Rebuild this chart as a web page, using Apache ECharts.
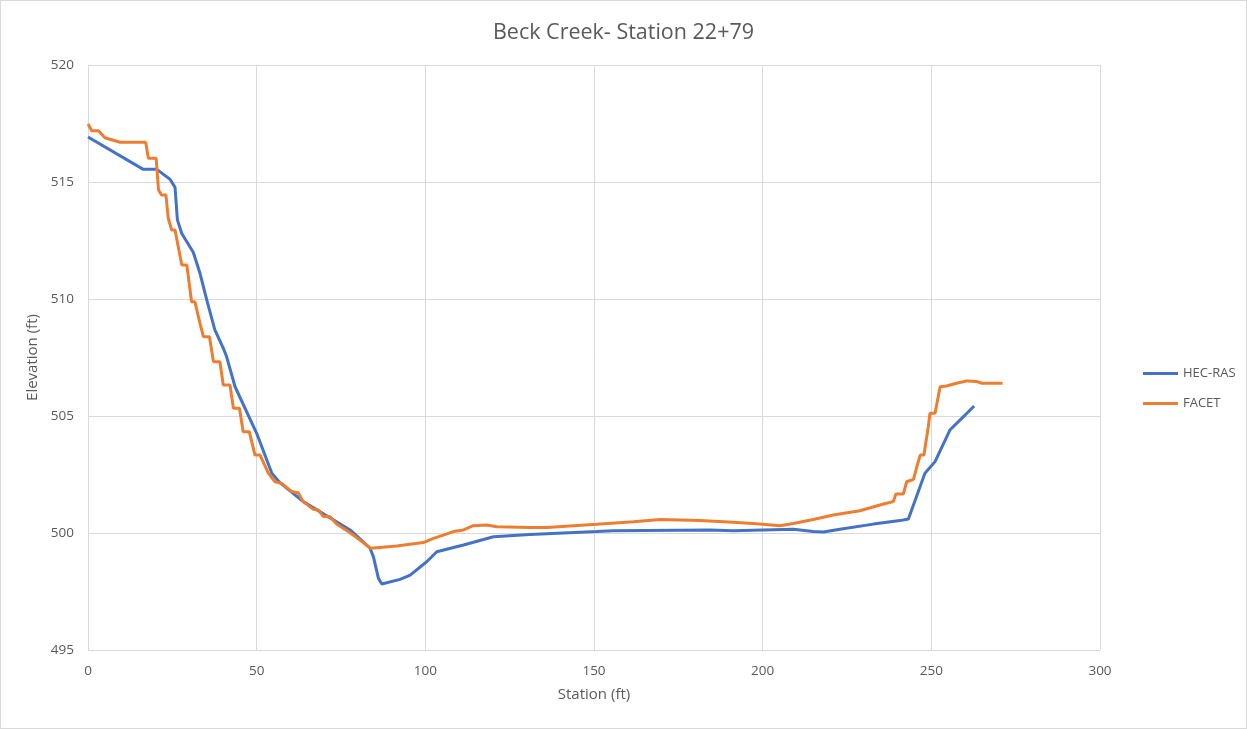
<!DOCTYPE html>
<html>
<head>
<meta charset="utf-8">
<script src="https://cdn.jsdelivr.net/npm/echarts@6/dist/echarts.min.js"></script>
<style>
html,body{margin:0;padding:0;background:#fff;}
#c{width:1245px;height:727px;border:1px solid #d9d9d9;}
</style>
</head>
<body>
<div id="c"></div>
<script>
const titleText = "Beck Creek- Station 22+79";
const xAxisName = "Station (ft)";
const yAxisName = "Elevation (ft)";
const seriesNames = ["HEC-RAS", "FACET"];

const hecStation = [0,16.4,20.4,24.3,25.8,26.5,27.8,31.2,33.2,35.2,37.6,40.1,41.1,43.6,50.0,54.5,56.9,63.8,77.7,83.6,84.6,86.1,87.1,92.5,95.5,100.4,103.4,111.3,120.2,131.0,150.8,155.7,184.4,191.3,209.1,215.0,218.0,222.9,232.8,240.7,243.2,248.1,251.1,255.5,260.0,262.7];
const hecElev = [516.92,515.54,515.54,515.12,514.77,513.38,512.8,512.0,511.1,509.96,508.68,507.9,507.53,506.25,504.26,502.55,502.15,501.34,500.13,499.35,498.99,498.06,497.82,498.02,498.2,498.77,499.2,499.49,499.84,499.94,500.06,500.10,500.13,500.10,500.16,500.06,500.04,500.16,500.38,500.53,500.6,502.55,503.05,504.4,505.04,505.43];

const facetStation = [0,1.1,3.1,5.0,9.5,17.1,17.9,20.2,20.9,21.8,23.1,23.8,24.8,25.8,27.8,29.3,30.7,31.7,33.2,34.2,36.0,37.2,39.1,40.1,42.1,43.1,44.9,46.0,47.8,49.5,51.0,53.5,55.4,57.4,60.4,62.3,63.8,66.8,68.3,69.8,71.7,73.7,77.7,81.6,83.8,91.5,99.4,102.4,105.3,108.3,111.3,114.2,118.2,121.2,131.0,136.0,150.8,161.7,169.6,181.4,191.3,199.2,205.1,209.1,215.0,220.9,228.8,235.8,238.7,239.5,241.7,242.7,244.7,245.7,246.7,247.8,249.1,249.6,251.1,252.6,254.5,257.5,260.5,263.5,265.0,271.1];
const facetElev = [517.48,517.19,517.19,516.89,516.70,516.70,516.01,516.01,514.66,514.44,514.44,513.45,512.95,512.95,511.45,511.45,509.88,509.88,508.96,508.39,508.39,507.32,507.32,506.32,506.32,505.33,505.33,504.33,504.33,503.33,503.33,502.55,502.19,502.12,501.77,501.72,501.34,501.01,500.98,500.70,500.70,500.38,500.01,499.59,499.35,499.44,499.59,499.77,499.91,500.06,500.13,500.31,500.34,500.27,500.23,500.23,500.37,500.48,500.58,500.53,500.46,500.38,500.31,500.41,500.58,500.77,500.95,501.24,501.34,501.67,501.67,502.19,502.29,502.83,503.33,503.33,504.54,505.12,505.12,506.25,506.28,506.40,506.50,506.47,506.40,506.40];

const pair = (xs, ys) => xs.map((x, i) => [x, ys[i]]);

const chart = echarts.init(document.getElementById('c'));
chart.setOption({
  animation: false,
  backgroundColor: '#fff',
  title: {
    text: titleText, left: 'center', top: 16,
    textStyle: {fontFamily: 'Open Sans', fontSize: 21.5, fontWeight: 'normal', color: '#595959'}
  },
  legend: {
    orient: 'vertical', left: 1137, top: 361, itemGap: 17,
    icon: 'rect', itemWidth: 35, itemHeight: 3,
    textStyle: {fontFamily: 'Open Sans', fontSize: 13, color: '#595959'},
    data: seriesNames
  },
  grid: {left: 87, right: 146, top: 64, bottom: 78, containLabel: false},
  xAxis: {
    type: 'value', min: 0, max: 300, interval: 50,
    name: xAxisName, nameLocation: 'middle', nameGap: 37,
    nameTextStyle: {fontFamily: 'Open Sans', fontSize: 15, color: '#595959'},
    axisLine: {show: false}, axisTick: {show: false},
    axisLabel: {fontFamily: 'Open Sans', fontSize: 13.5, color: '#595959', margin: 14},
    splitLine: {show: true, lineStyle: {color: '#d9d9d9', width: 1}}
  },
  yAxis: {
    type: 'value', min: 495, max: 520, interval: 5,
    name: yAxisName, nameLocation: 'middle', nameGap: 45, nameRotate: 90,
    nameTextStyle: {fontFamily: 'Open Sans', fontSize: 15, color: '#595959'},
    axisLine: {show: false}, axisTick: {show: false},
    axisLabel: {fontFamily: 'Open Sans', fontSize: 13.5, color: '#595959', margin: 14},
    splitLine: {show: true, lineStyle: {color: '#d9d9d9', width: 1}}
  },
  series: [
    {name: seriesNames[0], type: 'line', data: pair(hecStation, hecElev), showSymbol: false, symbol: 'none',
     lineStyle: {color: '#4472C4', width: 3}, itemStyle: {color: '#4472C4'}},
    {name: seriesNames[1], type: 'line', data: pair(facetStation, facetElev), showSymbol: false, symbol: 'none',
     lineStyle: {color: '#ED7D31', width: 3}, itemStyle: {color: '#ED7D31'}}
  ]
});
</script>
</body>
</html>
